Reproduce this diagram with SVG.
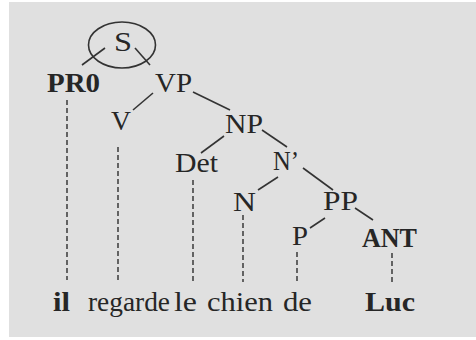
<svg xmlns="http://www.w3.org/2000/svg" width="476" height="340" viewBox="0 0 476 340">
<style>
text{font-family:"Liberation Serif","Times New Roman",serif;font-size:28px;fill:#262626}
.b{font-weight:bold}
.e{stroke:#333;stroke-width:1.6;fill:none}
.d{stroke:#444;stroke-width:1.6;stroke-dasharray:5 3;fill:none}
</style>
<rect x="0" y="0" width="476" height="340" fill="#fff"/>
<rect x="9" y="2" width="467" height="335" fill="#e0e0e0"/>
<g id="connectors">
<ellipse class="e" cx="122" cy="45" rx="33.5" ry="23"/>
<line class="e" x1="105" y1="48" x2="82" y2="65"/>
<line class="e" x1="135" y1="48" x2="150" y2="65"/>
<line class="e" x1="153" y1="93" x2="133" y2="110"/>
<line class="e" x1="193" y1="92" x2="230" y2="110"/>
<line class="e" x1="224" y1="136" x2="201" y2="153"/>
<line class="e" x1="262" y1="130" x2="287" y2="147"/>
<line class="e" x1="278" y1="177" x2="258" y2="190"/>
<line class="e" x1="303" y1="168" x2="333" y2="190"/>
<line class="e" x1="325" y1="218" x2="310" y2="228"/>
<line class="e" x1="355" y1="208" x2="373" y2="220"/>
<line class="d" x1="67" y1="100" x2="67" y2="280"/>
<line class="d" x1="118" y1="147" x2="118" y2="282"/>
<line class="d" x1="193" y1="180" x2="193" y2="282"/>
<line class="d" x1="243" y1="215" x2="243" y2="282"/>
<line class="d" x1="297" y1="252" x2="297" y2="282"/>
<line class="d" x1="392" y1="253" x2="392" y2="282"/>
</g>
<g id="S"><text x="114" y="51" textLength="18" lengthAdjust="spacingAndGlyphs">S</text></g>
<g id="PR0"><text class="b" x="47" y="92" textLength="53" lengthAdjust="spacingAndGlyphs">PR0</text></g>
<g id="VP"><text x="155" y="92" textLength="37" lengthAdjust="spacingAndGlyphs">VP</text></g>
<g id="V"><text x="111" y="130" textLength="20" lengthAdjust="spacingAndGlyphs">V</text></g>
<g id="NP"><text x="225" y="133" textLength="38" lengthAdjust="spacingAndGlyphs">NP</text></g>
<g id="Det"><text x="175" y="172" textLength="43" lengthAdjust="spacingAndGlyphs">Det</text></g>
<g id="Nbar"><text x="273" y="170" textLength="26" lengthAdjust="spacingAndGlyphs">N’</text></g>
<g id="N"><text x="233" y="211" textLength="23" lengthAdjust="spacingAndGlyphs">N</text></g>
<g id="PP"><text x="323" y="210" textLength="35" lengthAdjust="spacingAndGlyphs">PP</text></g>
<g id="P"><text x="292" y="245" textLength="16" lengthAdjust="spacingAndGlyphs">P</text></g>
<g id="ANT"><text class="b" x="362" y="247" textLength="55" lengthAdjust="spacingAndGlyphs">ANT</text></g>
<g id="words">
<text class="b" x="53" y="311" textLength="17" lengthAdjust="spacingAndGlyphs">il</text>
<text x="88" y="311" textLength="82" lengthAdjust="spacingAndGlyphs">regarde</text>
<text x="174" y="311" textLength="23" lengthAdjust="spacingAndGlyphs">le</text>
<text x="207" y="311" textLength="66" lengthAdjust="spacingAndGlyphs">chien</text>
<text x="283" y="311" textLength="29" lengthAdjust="spacingAndGlyphs">de</text>
<text class="b" x="365" y="311" textLength="50" lengthAdjust="spacingAndGlyphs">Luc</text>
</g>
</svg>
